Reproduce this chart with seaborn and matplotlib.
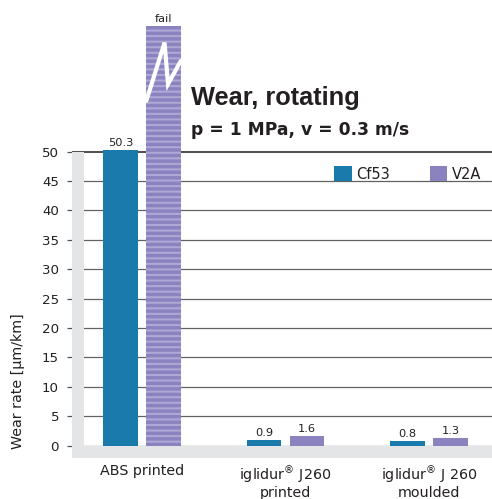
import numpy as np
import pandas as pd
import matplotlib
matplotlib.use("Agg")
import matplotlib.pyplot as plt
import seaborn as sns
from matplotlib.patches import Rectangle

# ---- data ----
categories = ["ABS printed", "iglidur® J260 printed", "iglidur® J 260 moulded"]
tick_labels = ["ABS printed", "iglidur$^{®}$ J260\nprinted", "iglidur$^{®}$ J 260\nmoulded"]
series = ["Cf53", "V2A"]
cf53 = [50.3, 0.9, 0.8]
v2a = [71.4, 1.6, 1.3]          # ABS on V2A failed: shown as broken bar
cf53_labels = ["50.3", "0.9", "0.8"]
v2a_labels = ["fail", "1.6", "1.3"]
colors = ["#1a7aab", "#8b83c0"]
stripe_color = "#aea8d6"
yticks = list(range(0, 55, 5))

df = pd.DataFrame({
    "material": categories * 2,
    "shaft": [series[0]] * 3 + [series[1]] * 3,
    "wear": cf53 + v2a,
})

sns.set_theme(style="white")
plt.rcParams["font.family"] = ["DejaVu Sans"]
plt.rcParams["hatch.linewidth"] = 1.5
text_color = "#231f20"

W, H = 492, 499
fig = plt.figure(figsize=(W / 100, H / 100), dpi=100)
ax_left, ax_right, ax_top, ax_bottom = 72, 492, 0, 458
ax = fig.add_axes([ax_left / W, (H - ax_bottom) / H, (ax_right - ax_left) / W, (ax_bottom - ax_top) / H])

sns.barplot(data=df, x="material", y="wear", hue="shaft", hue_order=series,
            palette=colors, width=0.6, gap=0.2, saturation=1, linewidth=0,
            errorbar=None, ax=ax, zorder=3)

# scales (pixel geometry of the reference)
ppu = 5.88          # pixels per unit
zero_px = 445.6
grp0_px, grp_step = 142, 143.5
xlim = (-(grp0_px - ax_left) / grp_step, (ax_right - grp0_px) / grp_step)
ylim = (-(ax_bottom - zero_px) / ppu, (zero_px - ax_top) / ppu)
ax.set_xlim(*xlim)
ax.set_ylim(*ylim)

# grid
ax.set_axisbelow(True)
ax.set_yticks(yticks)
ax.yaxis.grid(True, color="#626262", lw=0.9)
ax.xaxis.grid(False)
ax.get_ygridlines()[-1].set_color("#1e1e1e")
ax.get_ygridlines()[-1].set_linewidth(1.1)
for s in ax.spines.values():
    s.set_visible(False)

# grey frame strips
grey = "#e4e5e7"
ax.add_patch(Rectangle((xlim[0], ylim[0]), 12 / grp_step, yticks[-1] - ylim[0],
                       facecolor=grey, edgecolor="none", zorder=1.5))
ax.add_patch(Rectangle((xlim[0], ylim[0]), xlim[1] - xlim[0], 0 - ylim[0],
                       facecolor=grey, edgecolor="none", zorder=1.5))

# ticks
ax.tick_params(axis="y", length=3.6, width=0.9, color="#555555", pad=5.8,
               labelsize=9.6, labelcolor=text_color, left=True)
ax.tick_params(axis="x", length=0, pad=4.5, labelsize=10.3, labelcolor=text_color)
ax.set_xticks(range(len(categories)))
ax.set_xticklabels(tick_labels, linespacing=1.0)
ax.set_xlabel("")
ax.set_ylabel("Wear rate [µm/km]", fontsize=10.3, color=text_color)
ax.yaxis.label.set(ha="center", va="center", rotation_mode="anchor")
ax.yaxis.set_label_coords((18 - ax_left) / (ax_right - ax_left), (ax_bottom - 381) / (ax_bottom - ax_top))

# striped "fail" bar with break mark
fail_bar = ax.containers[1][0]
fail_bar.set_hatch("---")
fail_bar.set_edgecolor(stripe_color)
fail_bar.set_linewidth(0)
x0, w, h = fail_bar.get_x(), fail_bar.get_width(), fail_bar.get_height()
zx = x0 + w * np.array([0.0, 0.53, 0.63, 1.0])
zy = h * np.array([0.821, 0.96, 0.861, 0.916])
ax.plot(zx, zy, color="white", lw=3.0, solid_joinstyle="miter", zorder=4)

# value labels
ax.bar_label(ax.containers[0], labels=cf53_labels, padding=1.5, fontsize=8.2, color=text_color)
ax.bar_label(ax.containers[1], labels=v2a_labels, padding=1.5, fontsize=8.2, color=text_color)

# legend
sns.move_legend(ax, loc="center left", bbox_to_anchor=(334 / W, (H - 174) / H),
                bbox_transform=fig.transFigure, ncol=2, frameon=False, title=None,
                fontsize=10.5, handlelength=1.2, handleheight=1.2, handletextpad=0.3,
                columnspacing=2.74, borderpad=0, borderaxespad=0)
for t in ax.get_legend().get_texts():
    t.set_color(text_color)

# titles
fig.text(191 / W, (H - 104.5) / H, "Wear, rotating", fontsize=18.3, family="Liberation Sans",
         weight="bold", ha="left", va="baseline", color=text_color)
fig.text(191 / W, (H - 135) / H, "p = 1 MPa, v = 0.3 m/s", fontsize=12.3, weight="bold",
         ha="left", va="baseline", color=text_color)

fig.savefig("out.png", dpi=100)
